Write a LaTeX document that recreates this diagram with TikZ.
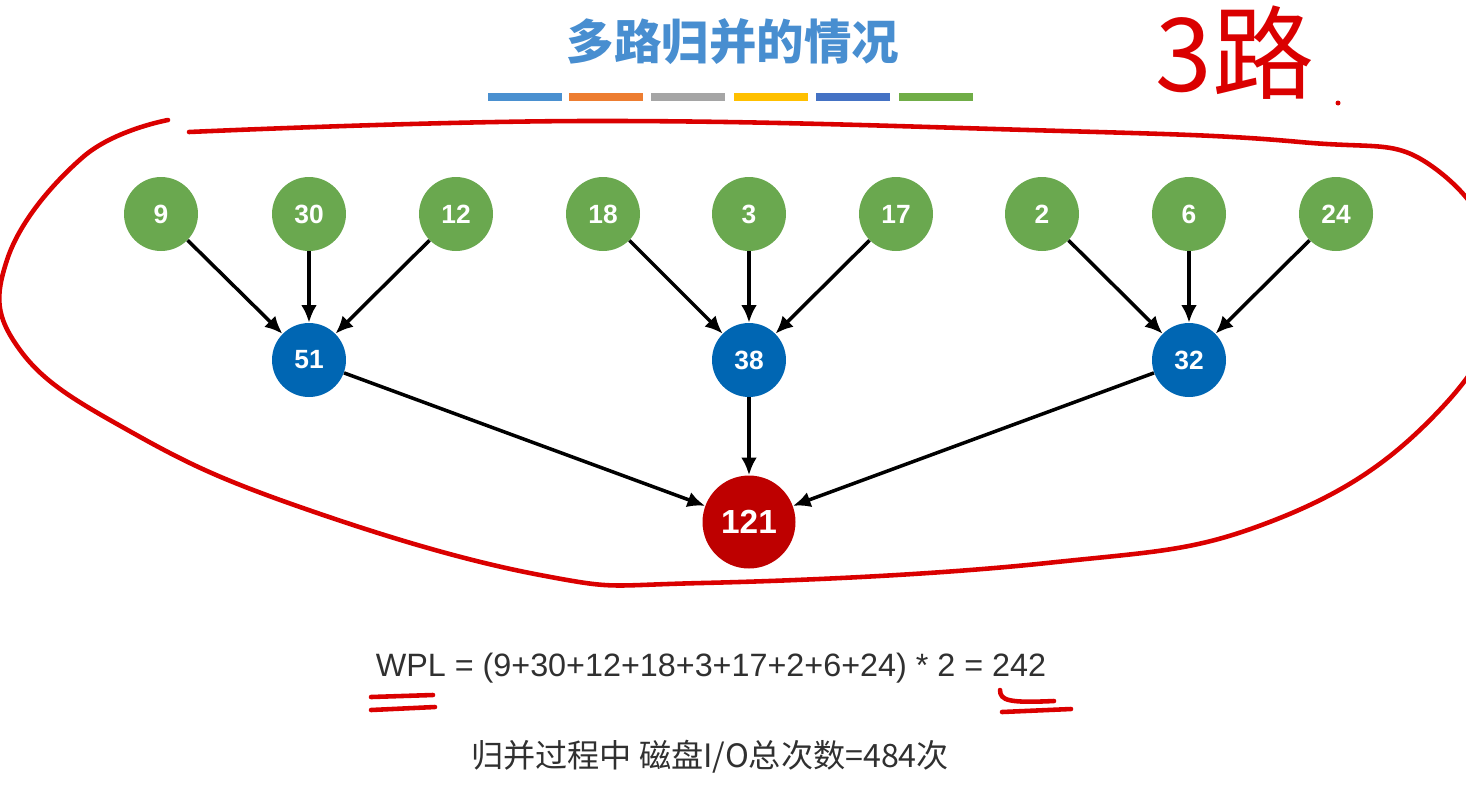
\documentclass[tikz,border=0pt]{standalone}
\usepackage{fontspec}
\setmainfont{Liberation Sans}
\newfontfamily\cjk{Noto Sans CJK SC}
\usetikzlibrary{arrows.meta}
\definecolor{leafgreen}{RGB}{106,168,79}
\definecolor{midblue}{RGB}{0,102,179}
\definecolor{rootred}{RGB}{190,0,0}
\definecolor{titleblue}{RGB}{72,142,208}
\definecolor{inkred}{RGB}{218,0,0}
\definecolor{textgray}{RGB}{48,48,48}
\definecolor{barA}{RGB}{74,144,208}
\definecolor{barB}{RGB}{237,125,49}
\definecolor{barC}{RGB}{165,165,165}
\definecolor{barD}{RGB}{255,192,0}
\definecolor{barE}{RGB}{68,114,196}
\definecolor{barF}{RGB}{112,173,71}

\begin{document}
\begin{tikzpicture}[x=0.02cm, y=-0.02cm, >={Latex[length=10pt,width=9pt]},
  ball/.style={circle, inner sep=0pt, minimum size=1.48cm, text=white,
               font=\fontsize{15}{15}\selectfont\bfseries},
  leaf/.style={ball, fill=leafgreen},
  mid/.style={ball, fill=midblue},
  root/.style={ball, fill=rootred, minimum size=1.86cm,
               font=\fontsize{19}{19}\selectfont\bfseries},
  edge/.style={->, line width=2pt},
  bar/.style={minimum width=1.48cm, minimum height=0.16cm, inner sep=0pt},
  ink/.style={draw=inkred, line width=2.6pt, line cap=round, line join=round}]
  \useasboundingbox (0,0) rectangle (1466,809);
  \clip (0,0) rectangle (1466,809);

  \node[font=\cjk\bfseries\fontsize{27}{27}\selectfont, text=titleblue] (title) at (733,42) {多路归并的情况};
  \node[bar, fill=barA] (b1) at (525,97) {};
  \node[bar, fill=barB] (b2) at (606,97) {};
  \node[bar, fill=barC] (b3) at (688,97) {};
  \node[bar, fill=barD] (b4) at (771,97) {};
  \node[bar, fill=barE] (b5) at (853,97) {};
  \node[bar, fill=barF] (b6) at (936,97) {};

  \node[leaf] (l9)  at (161,214) {9};
  \node[leaf] (l30) at (309,214) {30};
  \node[leaf] (l12) at (456,214) {12};
  \node[leaf] (l18) at (603,214) {18};
  \node[leaf] (l3)  at (749,214) {3};
  \node[leaf] (l17) at (896,214) {17};
  \node[leaf] (l2)  at (1042,214) {2};
  \node[leaf] (l6)  at (1189,214) {6};
  \node[leaf] (l24) at (1336,214) {24};
  \node[mid] (m51) at (309,360) {51};
  \node[mid] (m38) at (749,360) {38};
  \node[mid] (m32) at (1189,360) {32};
  \node[root] (r121) at (749,522) {121};

  \draw[edge] (l9) -- (m51);
  \draw[edge] (l30) -- (m51);
  \draw[edge] (l12) -- (m51);
  \draw[edge] (l18) -- (m38);
  \draw[edge] (l3) -- (m38);
  \draw[edge] (l17) -- (m38);
  \draw[edge] (l2) -- (m32);
  \draw[edge] (l6) -- (m32);
  \draw[edge] (l24) -- (m32);
  \draw[edge] (m51) -- (r121);
  \draw[edge] (m38) -- (r121);
  \draw[edge] (m32) -- (r121);

  \node[font=\fontsize{18.4}{18.4}\selectfont, text=textgray] (wpl) at (711,668)
    {WPL = (9+30+12+18+3+17+2+6+24) * 2 = 242};
  \node[font=\cjk\fontsize{18.3}{18.3}\selectfont, text=textgray] (disk) at (710,757)
    {归并过程中 磁盘I/O总次数=484次};

  \node[font=\cjk\fontsize{58}{58}\selectfont, text=inkred] (way) at (1235,53) {3路};
  \fill[inkred] (1338,103) circle (2.5);

  \draw[ink] plot[smooth, tension=0.7] coordinates {
    (189,132) (585,121) (1028,130) (1300,142) (1433,167) (1500,285)
    (1433,417) (1267,523) (1047,563) (702,583) (540,575) (300,507)
    (133,433) (20,350) (7,260) (83,157) (168,120)};
  \draw[ink] (371,697) -- (433,695);
  \draw[ink] (371,710) -- (435,707);
  \draw[ink] (1000,690) .. controls (1000,701) and (1010,703) .. (1054,701);
  \draw[ink] (1002,712) -- (1071,709);
\end{tikzpicture}
\end{document}
